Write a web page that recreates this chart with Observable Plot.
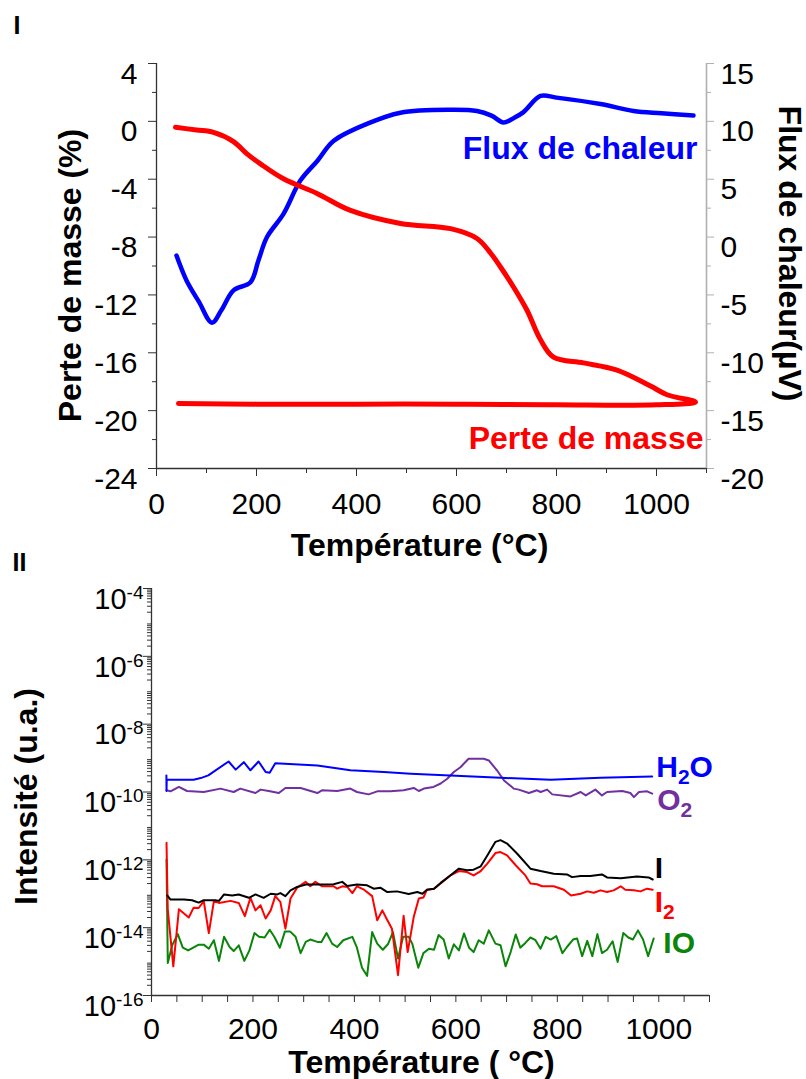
<!DOCTYPE html>
<html><head><meta charset="utf-8">
<script src="https://cdn.jsdelivr.net/npm/d3@7"></script>
<script src="https://cdn.jsdelivr.net/npm/@observablehq/plot@0.6"></script>
<style>
html,body{margin:0;padding:0;background:#fff;}
#wrap{position:relative;width:806px;height:1079px;overflow:hidden;font-family:"Liberation Sans",Arial,sans-serif;}
#wrap svg{position:absolute;left:0;}
</style></head><body><div id="wrap"></div>
<script>
// ---------- Panel I : TGA / DSC ----------
const massTemp = [38, 80, 114, 154, 181, 208, 254, 322, 388, 488, 588, 641, 668, 688, 714, 741, 768, 794, 854, 921, 988, 1021, 1078,
                  1000, 800, 600, 400, 200, 44];
const massPct  = [-0.41, -0.6, -0.76, -1.4, -2.25, -2.94, -3.97, -5.0, -6.16, -7.06, -7.42, -8.1, -9.1, -10.07, -11.45, -13.06, -15.1, -16.3, -16.7, -17.2, -18.3, -18.9, -19.4,
                  -19.6, -19.6, -19.55, -19.55, -19.55, -19.5];
const fluxTemp = [40, 60, 85, 111, 130, 154, 188, 204, 221, 254, 288, 322, 354, 422, 488, 588, 641, 670, 694, 715, 734, 768, 800, 888, 954, 1010, 1074];
const fluxUV   = [-1.6, -3.75, -5.6, -7.4, -6.3, -4.6, -3.9, -2.0, 0.0, 2.0, 4.9, 6.6, 8.3, 9.8, 10.75, 11.0, 10.9, 10.5, 9.9, 10.3, 10.8, 12.2, 12.05, 11.5, 10.9, 10.7, 10.5];

const xTicks1 = [0, 100, 200, 300, 400, 500, 600, 700, 800, 900, 1000, 1100];
const xLabels1 = [0, 200, 400, 600, 800, 1000];
const massTicks = [4, 0, -4, -8, -12, -16, -20, -24];
const massMinor = [2, -2, -6, -10, -14, -18, -22];
const fluxTicks = [15, 10, 5, 0, -5, -10, -15, -20];
const fluxMinor = [12.5, 7.5, 2.5, -2.5, -7.5, -12.5, -17.5];

// ---------- Panel II : mass spectrometry (log10 of intensity) ----------
const h2oT   = [29.4, 29.6, 30, 83, 97, 112, 152, 166, 182, 195, 211, 225, 233, 244, 327, 392, 458, 511, 589, 688, 787, 885, 987];
const h2oLog = [-9.51, -9.97, -9.64, -9.64, -9.59, -9.51, -9.10, -9.34, -9.12, -9.36, -9.10, -9.41, -9.43, -9.15, -9.22, -9.36, -9.41, -9.46, -9.51, -9.58, -9.64, -9.58, -9.54];

const o2T   = [29.6, 37.5, 54, 70, 103, 136, 162, 175, 205, 215, 231, 251, 264, 294, 327, 336, 366, 392, 405, 428, 445, 471, 497, 517, 527, 537, 556, 570, 583, 596, 609, 625, 655, 665, 681, 695, 714, 724, 744, 760, 767, 780, 790, 826, 846, 856, 875, 888, 898, 928, 944, 951, 961, 977, 987];
const o2Log = [-9.95, -9.98, -9.85, -9.97, -10.0, -9.90, -10.0, -9.90, -10.03, -9.93, -9.97, -10.03, -9.88, -9.88, -10.03, -9.95, -9.97, -9.90, -10.0, -10.07, -9.98, -9.98, -9.95, -9.88, -9.97, -9.90, -9.85, -9.75, -9.61, -9.41, -9.27, -9.02, -9.02, -9.07, -9.36, -9.66, -9.90, -9.93, -10.03, -9.95, -10.0, -9.93, -10.07, -10.13, -10.0, -10.10, -9.93, -10.10, -10.0, -9.97, -10.03, -10.15, -10.0, -9.98, -10.05];

const iT   = [31, 37.5, 64, 80, 93, 103, 126, 133, 143, 159, 172, 192, 205, 221, 235, 248, 254, 264, 274, 287, 304, 327, 359, 376, 386, 405, 425, 438, 451, 465, 484, 507, 524, 534, 543, 557, 570, 589, 606, 622, 635, 649, 662, 678, 688, 701, 721, 747, 767, 793, 819, 829, 846, 865, 888, 898, 925, 957, 980, 988];
const iLog = [-13.05, -13.17, -13.17, -13.19, -13.26, -13.19, -13.19, -13.21, -13.02, -13.05, -13.02, -13.12, -13.02, -13.12, -13.0, -13.02, -12.98, -13.07, -12.90, -12.80, -12.73, -12.73, -12.72, -12.65, -12.77, -12.73, -12.75, -12.85, -12.82, -12.95, -12.93, -13.01, -12.95, -13.0, -12.88, -12.85, -12.68, -12.46, -12.26, -12.31, -12.29, -12.19, -11.87, -11.47, -11.42, -11.52, -11.82, -12.26, -12.33, -12.41, -12.43, -12.51, -12.48, -12.48, -12.43, -12.52, -12.54, -12.49, -12.52, -12.58];

const i2T   = [29.6, 32, 43, 54, 73.5, 83, 93, 103, 113, 123, 133, 156, 172, 184, 195, 205, 215, 225, 235, 244, 254, 264, 274, 287, 304, 313, 323, 336, 359, 366, 376, 386, 396, 405, 419, 435, 445, 455, 465, 474, 486, 497, 505, 517, 527, 536, 543, 557, 570, 589, 606, 622, 635, 649, 662, 678, 688, 701, 718, 737, 747, 760, 770, 793, 813, 827, 846, 859, 872, 885, 898, 911, 925, 934, 951, 964, 977, 988];
const i2Log = [-11.5, -13.45, -15.14, -13.46, -13.70, -13.41, -13.42, -13.22, -14.16, -13.22, -13.27, -13.21, -13.27, -13.66, -13.12, -13.49, -13.34, -13.73, -13.49, -13.07, -13.24, -14.03, -13.14, -12.82, -12.65, -12.78, -12.65, -12.78, -12.78, -12.85, -12.78, -12.80, -12.98, -12.78, -12.88, -13.07, -13.78, -13.49, -13.78, -14.03, -15.40, -13.65, -14.72, -13.68, -13.14, -13.11, -12.88, -12.85, -12.70, -12.46, -12.33, -12.36, -12.46, -12.33, -12.11, -11.80, -11.77, -11.87, -12.16, -12.46, -12.70, -12.72, -12.78, -12.78, -12.88, -13.05, -13.0, -12.93, -12.97, -12.90, -12.95, -12.90, -12.78, -12.88, -12.90, -12.93, -12.85, -12.88];

const ioT   = [29.6, 32.1, 40.8, 51.8, 61.7, 72.3, 93.2, 103, 113, 123, 133, 143, 154, 162, 172, 183, 193, 203, 212, 223, 233, 242, 253, 263, 273, 284, 294, 304, 313, 327, 335, 345, 356, 366, 378, 396, 405, 415, 425, 435, 445, 456, 466, 476, 486, 496, 507, 514, 526, 536, 547, 557, 566, 576, 586, 596, 606, 616, 626, 635, 645, 655, 665, 678, 688, 698, 708, 718, 727, 737, 747, 757, 767, 777, 787, 798, 810, 819, 831, 839, 849, 859, 869, 879, 888, 898, 909, 919, 930, 940, 949, 959, 969, 979, 990];
const ioLog = [-11.99, -15.04, -14.52, -14.19, -14.59, -14.67, -14.50, -14.50, -14.62, -14.37, -14.98, -14.27, -14.57, -14.69, -14.52, -14.98, -14.67, -14.16, -14.27, -14.29, -14.06, -14.27, -14.59, -14.11, -14.11, -14.27, -14.75, -14.42, -14.35, -14.42, -14.42, -14.16, -14.47, -14.57, -14.37, -14.27, -14.59, -15.18, -15.42, -14.13, -14.47, -14.65, -14.49, -14.13, -14.91, -14.27, -14.27, -14.47, -15.18, -14.75, -14.62, -14.65, -14.22, -14.35, -14.91, -14.49, -14.67, -14.17, -14.59, -14.72, -14.37, -14.47, -14.08, -14.47, -14.52, -15.14, -14.72, -14.20, -14.59, -14.45, -14.29, -14.37, -14.62, -14.27, -14.35, -14.25, -14.75, -14.57, -14.35, -14.32, -14.84, -14.39, -14.84, -14.19, -14.75, -14.65, -14.40, -15.01, -14.16, -14.29, -14.35, -14.08, -14.35, -14.84, -14.32];

const xTicks2 = d3.range(0, 1101, 50);
const xLabels2 = [0, 200, 400, 600, 800, 1000];
const yDecades = [1e-4, 1e-6, 1e-8, 1e-10, 1e-12, 1e-14, 1e-16];
const yMinor2 = d3.range(-16, -4).flatMap(e => [2,3,4,5,6,7,8,9].map(m => m * Math.pow(10, e)));

// ---------- build ----------
const FONT = '"Liberation Sans", Arial, sans-serif';
const AX = "#333";
const NS = "http://www.w3.org/2000/svg";
const wrap = document.getElementById("wrap");
const blank = () => "";

// dual axis mapping: heat flux (µV) [-20,15] onto mass (%) [-24,4]
const toL = r => -24 + (r + 20) * 0.8;
const fromL = l => (l + 24) / 0.8 - 20;
const massRows = massTemp.map((t, i) => ({t, v: massPct[i]}));
const fluxRows = fluxTemp.map((t, i) => ({t, v: toL(fluxUV[i])}));

const p1 = Plot.plot({
  width: 806, height: 560,
  marginLeft: 156, marginRight: 100, marginTop: 63, marginBottom: 92,
  style: {fontFamily: FONT, fontSize: "30px", background: "transparent", overflow: "visible", color: "#000"},
  x: {domain: [0, 1100]},
  y: {domain: [-24, 4]},
  marks: [
    Plot.ruleX([0], {stroke: AX, strokeWidth: 1.3}),
    Plot.ruleY([-24], {stroke: AX, strokeWidth: 1.3}),
    Plot.ruleX([1100], {stroke: "#b0b0b0", strokeWidth: 1.6}),
    Plot.axisX(xTicks1, {tickSize: 5, stroke: AX, tickFormat: blank, label: null}),
    Plot.axisX(xLabels1, {tickSize: 8, stroke: AX, tickFormat: blank, label: null}),
    Plot.axisX(xLabels1, {tickSize: 0, tickPadding: 23.7, fontSize: 30, tickFormat: d => String(d), label: null}),
    Plot.axisY(massMinor, {anchor: "left", tickSize: 4, stroke: AX, tickFormat: blank, label: null}),
    Plot.axisY(massTicks, {anchor: "left", tickSize: 8, stroke: AX, tickFormat: blank, label: null}),
    Plot.axisY(massTicks, {anchor: "left", tickSize: 0, tickPadding: 19, dy: 10.5, fontSize: 30, tickFormat: d => String(d), label: null}),
    Plot.axisY(fluxMinor.map(toL), {anchor: "right", tickSize: 4, stroke: "#b0b0b0", tickFormat: blank, label: null}),
    Plot.axisY(fluxTicks.map(toL), {anchor: "right", tickSize: 7, stroke: "#b0b0b0", tickFormat: blank, label: null}),
    Plot.axisY(fluxTicks.map(toL), {anchor: "right", tickSize: 0, tickPadding: 14, dy: 10.5, fontSize: 30, tickFormat: d => String(Math.round(fromL(d))), label: null}),
    Plot.line(fluxRows, {x: "t", y: "v", stroke: "#0000ff", strokeWidth: 4.5, curve: "catmull-rom"}),
    Plot.line(massRows, {x: "t", y: "v", stroke: "#ff0000", strokeWidth: 5, curve: "catmull-rom"}),
    Plot.text(["Flux de chaleur"], {x: 1082, y: -1.87, textAnchor: "end", fill: "#0000ff", fontSize: 32, fontWeight: "bold"}),
    Plot.text(["Perte de masse"], {x: 1094, y: -21.94, textAnchor: "end", fill: "#ff0000", fontSize: 32, fontWeight: "bold"}),
    Plot.text(["Température (°C)"], {frameAnchor: "bottom", textAnchor: "middle", lineAnchor: "bottom", dx: -12, dy: 87, fontSize: 32, fontWeight: "bold"}),
    Plot.text(["Perte de masse (%)"], {frameAnchor: "left", rotate: -90, textAnchor: "middle", lineAnchor: "bottom", dx: -76, dy: 9.5, fontSize: 32, fontWeight: "bold"}),
    Plot.text(["Flux de chaleur(µV)"], {frameAnchor: "right", rotate: 90, textAnchor: "middle", lineAnchor: "bottom", dx: 72, dy: -12.5, fontSize: 32, fontWeight: "bold"}),
    Plot.text(["I"], {frameAnchor: "top-left", textAnchor: "start", lineAnchor: "bottom", dx: -143, dy: -30, fontSize: 25, fontWeight: "bold"})
  ]
});
p1.style.top = "0px";
wrap.appendChild(p1);

const mk = (T, L) => T.map((t, i) => ({t, v: Math.pow(10, L[i])}));
const p2 = Plot.plot({
  width: 806, height: 539,
  marginLeft: 151, marginRight: 97, marginTop: 48, marginBottom: 84,
  style: {fontFamily: FONT, fontSize: "30px", background: "transparent", overflow: "visible", color: "#000"},
  x: {domain: [0, 1100]},
  y: {type: "log", domain: [1e-16, 1e-4]},
  marks: [
    Plot.ruleX([0], {stroke: AX, strokeWidth: 1.3}),
    Plot.ruleY([1e-16], {stroke: AX, strokeWidth: 1.3}),
    Plot.axisX(xTicks2, {tickSize: 7, stroke: AX, tickFormat: blank, label: null}),
    Plot.axisX(xLabels2, {tickSize: 0, tickPadding: 22.5, fontSize: 30, tickFormat: d => String(d), label: null}),
    Plot.axisY(yMinor2, {anchor: "left", tickSize: 4, stroke: AX, tickFormat: blank, label: null}),
    Plot.axisY(yDecades, {anchor: "left", tickSize: 8, stroke: AX, tickFormat: blank, label: null}),
    Plot.axisY(yDecades, {anchor: "left", tickSize: 0, tickPadding: 8, dy: 11, fontSize: 29, tickFormat: d => "e" + String(Math.round(Math.log10(d))), label: null}),
    Plot.line(mk(ioT, ioLog), {x: "t", y: "v", stroke: "#0a850a", strokeWidth: 2}),
    Plot.line(mk(i2T, i2Log), {x: "t", y: "v", stroke: "#ff0000", strokeWidth: 2}),
    Plot.line(mk(iT, iLog), {x: "t", y: "v", stroke: "#000000", strokeWidth: 2}),
    Plot.line(mk(o2T, o2Log), {x: "t", y: "v", stroke: "#7030a0", strokeWidth: 2}),
    Plot.line(mk(h2oT, h2oLog), {x: "t", y: "v", stroke: "#0000ff", strokeWidth: 2}),
    Plot.text(["H2O"], {x: 995, y: Math.pow(10, -9.56), textAnchor: "start", lineAnchor: "bottom", fill: "#0000ff", fontSize: 30, fontWeight: "bold"}),
    Plot.text(["O2"], {x: 997, y: Math.pow(10, -10.54), textAnchor: "start", lineAnchor: "bottom", fill: "#7030a0", fontSize: 30, fontWeight: "bold"}),
    Plot.text(["I"], {x: 992, y: Math.pow(10, -12.55), textAnchor: "start", lineAnchor: "bottom", fill: "#000000", fontSize: 30, fontWeight: "bold"}),
    Plot.text(["I2"], {x: 992, y: Math.pow(10, -13.54), textAnchor: "start", lineAnchor: "bottom", fill: "#ff0000", fontSize: 30, fontWeight: "bold"}),
    Plot.text(["IO"], {x: 1009, y: Math.pow(10, -14.76), textAnchor: "start", lineAnchor: "bottom", fill: "#0a850a", fontSize: 30, fontWeight: "bold"}),
    Plot.text(["Température ( °C)"], {frameAnchor: "bottom", textAnchor: "middle", lineAnchor: "bottom", dx: -9, dy: 77.5, fontSize: 32, fontWeight: "bold"}),
    Plot.text(["Intensité (u.a.)"], {frameAnchor: "left", rotate: -90, textAnchor: "middle", lineAnchor: "bottom", dx: -114.5, dy: 4.5, fontSize: 32, fontWeight: "bold"}),
    Plot.text(["II"], {frameAnchor: "top-left", textAnchor: "start", lineAnchor: "bottom", dx: -139, dy: -18, fontSize: 25, fontWeight: "bold"})
  ]
});
p2.style.top = "540px";
wrap.appendChild(p2);

// superscript exponents on the log axis
p2.querySelectorAll("text").forEach(t => {
  const s = t.textContent;
  if (!/^e-?\d+$/.test(s)) return;
  const e = s.slice(1);
  t.textContent = "";
  const a = document.createElementNS(NS, "tspan"); a.textContent = "10";
  const b = document.createElementNS(NS, "tspan");
  b.setAttribute("dy", "-10"); b.setAttribute("font-size", "19"); b.textContent = e;
  t.append(a, b);
});
// subscripts in species labels (H2O, O2, I2)
p2.querySelectorAll("text").forEach(t => {
  const s = t.textContent;
  const m = s.match(/^([A-Z]+)(2)([A-Z]*)$/);
  if (!m) return;
  t.textContent = "";
  const a = document.createElementNS(NS, "tspan"); a.textContent = m[1];
  const b = document.createElementNS(NS, "tspan");
  b.setAttribute("dy", "7"); b.setAttribute("font-size", "21"); b.textContent = m[2];
  t.append(a, b);
  if (m[3]) {
    const c = document.createElementNS(NS, "tspan");
    c.setAttribute("dy", "-7"); c.textContent = m[3];
    t.append(c);
  }
});
</script></body></html>
